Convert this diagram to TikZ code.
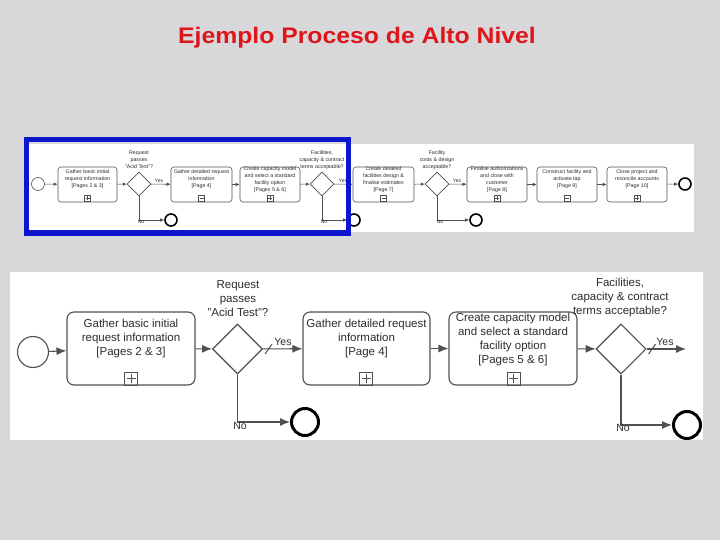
\documentclass[tikz,border=0pt]{standalone}
\usepackage{fontspec}
\usepackage{graphicx}
\setmainfont{Liberation Sans}
\usetikzlibrary{arrows.meta,shapes.geometric}
\definecolor{bg}{RGB}{216,216,218}
\definecolor{ln}{RGB}{80,80,80}
\definecolor{tx}{RGB}{45,45,45}
\definecolor{ttl}{RGB}{222,22,28}
\definecolor{frm}{RGB}{12,22,205}
\begin{document}
\begin{tikzpicture}[x=1pt,y=-1pt,
  bigtask/.style={draw=ln,line width=1.1pt,rounded corners=7pt,minimum width=#1,minimum height=73pt,inner sep=0pt},
  bigtxt/.style={align=center,text=tx,inner sep=0pt,font=\fontsize{11.5}{14}\selectfont},
  bigdia/.style={diamond,draw=ln,line width=1.1pt,minimum width=50pt,minimum height=50pt,inner sep=0pt},
  bigstart/.style={circle,draw=ln,line width=1.1pt,minimum size=31pt,inner sep=0pt},
  bigend/.style={circle,draw=black,line width=3pt,minimum size=27pt,inner sep=0pt},
  bigarr/.style={draw=ln,line width=1.1pt,-{Latex[length=10pt,width=8pt]}},
  bigyn/.style={text=tx,inner sep=0pt,font=\fontsize{10.5}{12}\selectfont},
  bigmark/.style={draw=ln,line width=0.9pt,minimum size=13pt,inner sep=0pt,
    path picture={\draw[ln,line width=0.9pt] (path picture bounding box.center) ++(0,-4.5) -- ++(0,9);
      \draw[ln,line width=0.9pt] (path picture bounding box.center) ++(-4.5,0) -- ++(9,0);}},
  smtask/.style={draw=ln,line width=0.6pt,rounded corners=3pt,minimum width=#1,minimum height=35pt,inner sep=0pt},
  smtxt/.style={align=center,text=tx,inner sep=0pt,font=\fontsize{5.3}{7}\selectfont},
  smdia/.style={diamond,draw=ln,line width=0.6pt,minimum width=24pt,minimum height=24pt,inner sep=0pt},
  smstart/.style={circle,draw=ln,line width=0.6pt,minimum size=13pt,inner sep=0pt},
  smend/.style={circle,draw=black,line width=1.6pt,minimum size=12pt,inner sep=0pt},
  smarr/.style={draw=ln,line width=0.6pt,-{Latex[length=4pt,width=3.5pt]}},
  smyn/.style={text=tx,inner sep=0pt,font=\fontsize{5}{6}\selectfont},
  smplus/.style={draw=ln,line width=0.5pt,minimum size=6pt,inner sep=0pt,
    path picture={\draw[ln,line width=0.5pt] (path picture bounding box.center) ++(0,-2) -- ++(0,4);
      \draw[ln,line width=0.5pt] (path picture bounding box.center) ++(-2,0) -- ++(4,0);}},
  smminus/.style={draw=ln,line width=0.5pt,minimum size=6pt,inner sep=0pt,
    path picture={\draw[ln,line width=0.5pt] (path picture bounding box.center) ++(-2,0) -- ++(4,0);}}
]
\useasboundingbox (0,0) rectangle (720,540);
\fill[bg] (0,0) rectangle (720,540);

% title
\node[text=ttl,anchor=base,inner sep=0pt,font=\fontsize{22.5}{26}\selectfont\bfseries] (title) at (357,44) {\scalebox{1.1}[1]{Ejemplo Proceso de Alto Nivel}};

% ---------------- small overview panel
\fill[white] (27,144) rectangle (694,232);
\node[smstart] (ss) at (38,184) {};
\node[smtask=59] (s1) at (87.5,184.5) {};
\node[smtxt] (s1t) at (87.5,179) {Gather basic initial\\request information\\{[Pages 2 \& 3]}};
\node[smplus] (s1m) at (87.5,198) {};
\node[smdia] (sd1) at (139,184) {};
\node[smtxt] (sd1t) at (139,160) {Request\\passes\\"Acid Test"?};
\node[smtask=61] (s2) at (201.5,184.5) {};
\node[smtxt] (s2t) at (201.5,179) {Gather detailed request\\information\\{[Page 4]}};
\node[smminus] (s2m) at (201.5,198) {};
\node[smtask=60] (s3) at (270,184.5) {};
\node[smtxt] (s3t) at (270,180) {Create capacity model\\and select a standard\\facility option\\{[Pages 5 \& 6]}};
\node[smplus] (s3m) at (270,198) {};
\node[smdia] (sd2) at (322,184) {};
\node[smtxt] (sd2t) at (322,160) {Facilities,\\capacity \& contract\\terms acceptable?};
\node[smtask=61] (s4) at (383.5,184.5) {};
\node[smtxt] (s4t) at (383.5,180) {Create detailed\\facilities design \&\\finalise estimates\\{[Page 7]}};
\node[smminus] (s4m) at (383.5,198) {};
\node[smdia] (sd3) at (437,184) {};
\node[smtxt] (sd3t) at (437,160) {Facility\\costs \& design\\acceptable?};
\node[smtask=60] (s5) at (497,184.5) {};
\node[smtxt] (s5t) at (497,180) {Finalise authorizations\\and close with\\customer\\{[Page 8]}};
\node[smplus] (s5m) at (497,198) {};
\node[smtask=60] (s6) at (567,184.5) {};
\node[smtxt] (s6t) at (567,179) {Construct facility and\\activate tap\\{[Page 9]}};
\node[smminus] (s6m) at (567,198) {};
\node[smtask=60] (s7) at (637,184.5) {};
\node[smtxt] (s7t) at (637,179) {Close project and\\reconcile accounts\\{[Page 10]}};
\node[smplus] (s7m) at (637,198) {};
\node[smend] (se0) at (685,184) {};
\node[smend] (se1) at (171,220) {};
\node[smend] (se2) at (354,220) {};
\node[smend] (se3) at (476,220) {};
\draw[smarr] (ss) -- (s1);
\draw[smarr] (s1) -- (sd1);
\draw[smarr] (sd1) -- (s2);
\draw[smarr] (s2) -- (s3);
\draw[smarr] (s3) -- (sd2);
\draw[smarr] (sd2) -- (s4);
\draw[smarr] (s4) -- (sd3);
\draw[smarr] (sd3) -- (s5);
\draw[smarr] (s5) -- (s6);
\draw[smarr] (s6) -- (s7);
\draw[smarr] (s7) -- (se0);
\draw[smarr] (sd1.south) |- (se1);
\draw[smarr] (sd2.south) |- (se2);
\draw[smarr] (sd3.south) |- (se3);
\node[smyn] (sy1) at (159,181) {Yes};
\node[smyn] (sy2) at (343,181) {Yes};
\node[smyn] (sy3) at (457,181) {Yes};
\node[smyn] (sn1) at (141,222) {No};
\node[smyn] (sn2) at (324,222) {No};
\node[smyn] (sn3) at (440,222) {No};
\draw[frm,line width=5pt] (26.5,140) rectangle (348.5,233);

% ---------------- enlarged panel
\fill[white] (10,272) rectangle (703,440);
\node[bigstart] (bs) at (33,352) {};
\node[bigtask=128pt] (b1) at (131,348.5) {};
\node[bigtxt] (b1t) at (131,339) {Gather basic initial\\request information\\{[Pages 2 \& 3]}};
\node[bigmark] (b1m) at (131,378.5) {};
\node[bigdia] (bd1) at (237.5,349) {};
\node[bigtxt] (bd1t) at (238,299) {Request\\passes\\"Acid Test"?};
\node[bigtask=127pt] (b2) at (366.5,348.5) {};
\node[bigtxt] (b2t) at (366.5,339) {Gather detailed request\\information\\{[Page 4]}};
\node[bigmark] (b2m) at (366,378.5) {};
\node[bigtask=128pt] (b3) at (513,348.5) {};
\node[bigtxt] (b3t) at (513,340) {Create capacity model\\and select a standard\\facility option\\{[Pages 5 \& 6]}};
\node[bigmark] (b3m) at (513.5,378.5) {};
\node[bigdia] (bd2) at (621,349) {};
\node[bigtxt] (bd2t) at (620,298) {Facilities,\\capacity \& contract\\terms acceptable?};
\node[bigend] (be1) at (305,422) {};
\node[bigend] (be2) at (687,425) {};
\coordinate (byes2) at (686,349);
\draw[bigarr] (bs) -- (b1);
\draw[bigarr] (b1) -- (bd1);
\draw[bigarr] (bd1) -- (b2);
\draw[bigarr] (b2) -- (b3);
\draw[bigarr] (b3) -- (bd2);
\draw[bigarr] (bd2) -- (byes2);
\draw[bigarr] (bd1.south) |- (be1);
\draw[bigarr] (bd2.south) |- (be2);
\draw[ln,line width=1pt] ([shift={(2,5)}]bd1.east) -- ([shift={(9,-5)}]bd1.east);
\draw[ln,line width=1pt] ([shift={(2,5)}]bd2.east) -- ([shift={(9,-5)}]bd2.east);
\node[bigyn] (by1) at (283,342) {Yes};
\node[bigyn] (by2) at (665,342) {Yes};
\node[bigyn] (bn1) at (240,426) {No};
\node[bigyn] (bn2) at (623,428) {No};
\end{tikzpicture}
\end{document}
